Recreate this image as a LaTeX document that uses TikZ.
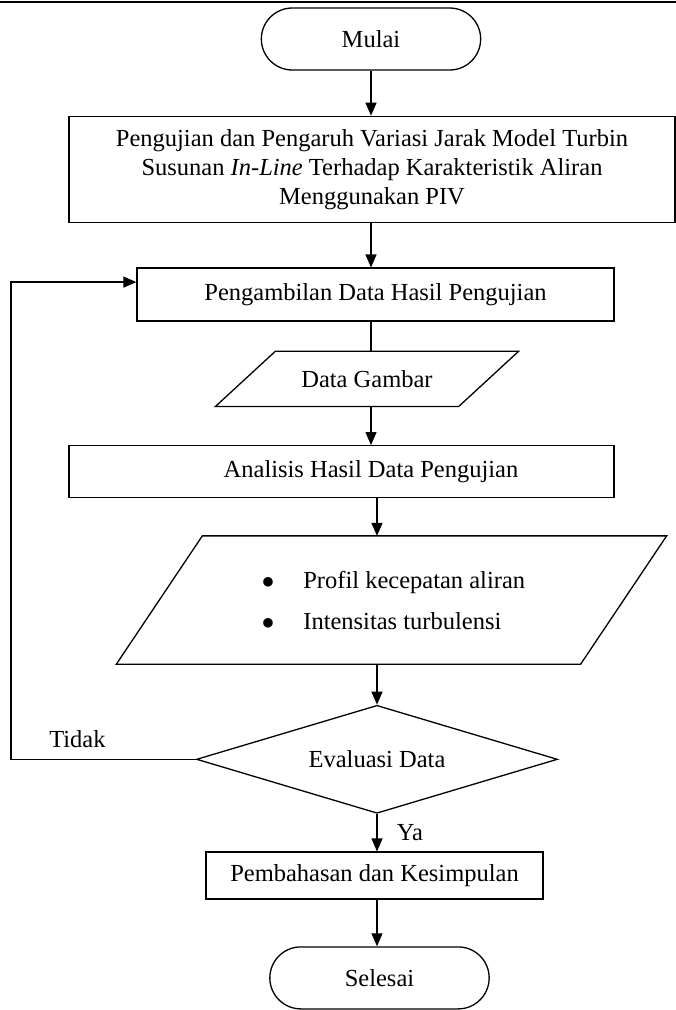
\documentclass[tikz,border=0pt]{standalone}
\usepackage{fontspec}
\setmainfont{Liberation Serif}
\usetikzlibrary{positioning, shapes.geometric, shapes.misc, arrows.meta}

\begin{document}
\begin{tikzpicture}[
    x=1pt, y=-1pt,
    font=\fontsize{24.5}{29}\selectfont,
    line width=1.3pt,
    terminal/.style={draw, rounded rectangle, minimum width=226pt, minimum height=62pt},
    proses/.style={draw, rectangle, inner sep=0pt},
    datain/.style={rectangle, inner sep=0pt},
    keputusan/.style={draw, diamond, inner sep=0pt},
    panah/.style={-{Triangle[length=13pt, width=11pt]}}]
    \useasboundingbox (0,0) rectangle (676,1010);
    \draw (0,2) -- (676,2);

    \node[terminal] (mulai) at (371,39) {Mulai};

    \node[
        proses,
        minimum width=606pt,
        minimum height=106pt,
        align=center,
        below=45pt of mulai, xshift=1pt] (uji)
        {Pengujian dan Pengaruh Variasi Jarak Model Turbin\\
         Susunan \textit{In-Line} Terhadap Karakteristik Aliran\\
         Menggunakan PIV};
    \node[
        proses,
        minimum width=477pt,
        minimum height=53pt,
        below=44.5pt of uji, xshift=3.5pt] (ambil) {Pengambilan Data Hasil Pengujian};
    \node[
        datain,
        minimum width=302pt,
        minimum height=54pt,
        below=29.5pt of ambil, xshift=-8.5pt] (gambar) {Data Gambar};
    \node[
        proses,
        minimum width=545pt,
        minimum height=52pt,
        below=38.5pt of gambar, xshift=-25.5pt] (analisis)
        {\hspace*{59pt}Analisis Hasil Data Pengujian};
    \node[
        datain,
        minimum width=549pt,
        minimum height=127pt,
        align=left,
        below=37.5pt of analisis, xshift=50pt] (profil)
        {\hspace*{4pt}$\bullet$\hspace{29pt}Profil kecepatan aliran\\[12pt]
         \hspace*{4pt}$\bullet$\hspace{29pt}Intensitas turbulensi};
    \node[
        keputusan,
        aspect=3.34,
        minimum width=361pt,
        minimum height=108pt,
        below=40.5pt of profil, xshift=-14.5pt] (evaluasi) {Evaluasi Data};
    \node[
        proses,
        minimum width=337pt,
        minimum height=47pt,
        below=37.5pt of evaluasi, xshift=-2.5pt] (bahas) {Pembahasan dan Kesimpulan};
    \node[terminal, below=46.5pt of bahas, xshift=5pt] (selesai) {Selesai};

    % jajaran genjang untuk data
    \draw ([xshift=60pt]gambar.north west) -- (gambar.north east)
    -- ([xshift=-60pt]gambar.south east) -- (gambar.south west) -- cycle;
    \draw ([xshift=86pt]profil.north west) -- (profil.north east)
    -- ([xshift=-86pt]profil.south east) -- (profil.south west) -- cycle;

    \draw[panah] (mulai.south) -- (mulai.south |- uji.north);
    \draw[panah] (mulai.south |- uji.south) -- (mulai.south |- ambil.north);
    \draw (mulai.south |- ambil.south) -- (mulai.south |- gambar.north);
    \draw[panah] (mulai.south |- gambar.south) -- (mulai.south |- analisis.north);
    \draw[panah] (evaluasi.north |- analisis.south) -- (evaluasi.north |- profil.north);
    \draw[panah] (evaluasi.north |- profil.south) -- (evaluasi.north);
    \draw[panah] (evaluasi.south) -- (evaluasi.south |- bahas.north)
    node[midway, right, xshift=16pt]{Ya};
    \draw[panah] (evaluasi.south |- bahas.south) -- (evaluasi.south |- selesai.north);

    \draw[panah] (evaluasi.west) -- ++(-185,0)
    node[pos=0.64, above, yshift=8pt]{Tidak}
    |- ([yshift=12.5pt]ambil.west);
\end{tikzpicture}
\end{document}
